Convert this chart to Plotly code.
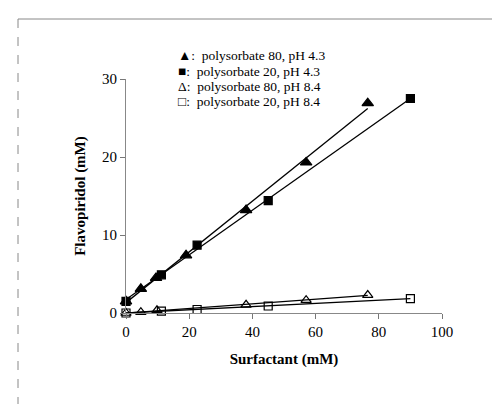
import numpy as np
import plotly.graph_objects as go

# Data
ps80_ph43_x = [0, 4.7, 9.5, 19, 38, 57, 76.5]
ps80_ph43_y = [1.5, 3.1, 4.5, 7.4, 13.2, 19.3, 26.9]
ps20_ph43_x = [0, 11.2, 22.5, 45, 90]
ps20_ph43_y = [1.5, 4.9, 8.7, 14.4, 27.5]
ps80_ph84_x = [0, 4.7, 9.8, 38, 57, 76.5]
ps80_ph84_y = [0.0, 0.1, 0.35, 1.05, 1.65, 2.3]
ps20_ph84_x = [0, 11.2, 22.5, 45, 90]
ps20_ph84_y = [0.0, 0.25, 0.45, 0.9, 1.85]

legend_lines = [
    "\u25B2:  polysorbate 80, pH 4.3",
    "\u25A0:  polysorbate 20, pH 4.3",
    "\u0394:  polysorbate 80, pH 8.4",
    "\u25A1:  polysorbate 20, pH 8.4",
]

x_ticks = [0, 20, 40, 60, 80, 100]
y_ticks = [0, 10, 20, 30]

FONT = "Liberation Serif"

fig = go.Figure()

series = [
    (ps80_ph43_x, ps80_ph43_y, "triangle-up", "black", 10),
    (ps20_ph43_x, ps20_ph43_y, "square", "black", 8),
    (ps80_ph84_x, ps80_ph84_y, "triangle-up-open", "black", 9),
    (ps20_ph84_x, ps20_ph84_y, "square-open", "black", 8),
]

for xs, ys, sym, col, size in series:
    xa = np.array(xs, dtype=float)
    ya = np.array(ys, dtype=float)
    m, b = np.polyfit(xa, ya, 1)
    xl = np.array([xa.min(), xa.max()])
    fig.add_trace(go.Scatter(x=xl, y=m * xl + b, mode="lines",
                             line=dict(color="black", width=1.3),
                             showlegend=False, hoverinfo="skip", cliponaxis=False))
    fig.add_trace(go.Scatter(x=xs, y=ys, mode="markers",
                             marker=dict(symbol=sym, size=size, color=col,
                                         line=dict(color="black", width=1.2)),
                             showlegend=False, cliponaxis=False))

# legend as text block
for i, t in enumerate(legend_lines):
    fig.add_annotation(xref="paper", yref="paper", x=(168 - 118) / 316,
                       y=(305 - (48 + 15.3 * i)) / 234, text=t, showarrow=False,
                       xanchor="left", yanchor="middle",
                       font=dict(family=FONT, size=13.5, color="black"))

# page frame (scanned border)
fig.add_shape(type="line", xref="paper", yref="paper",
              x0=(10 - 118) / 316, x1=1.3, y0=(305 - 11) / 234, y1=(305 - 11) / 234,
              line=dict(color="#888888", width=1))
fig.add_shape(type="line", xref="paper", yref="paper",
              x0=(10 - 118) / 316, x1=(10 - 118) / 316, y0=(305 - 11) / 234, y1=-0.5,
              line=dict(color="#888888", width=1, dash="dash"))

fig.update_layout(
    width=500, height=404,
    margin=dict(l=118, r=66, t=71, b=99),
    paper_bgcolor="white", plot_bgcolor="white",
    font=dict(family=FONT, size=14, color="black"),
    xaxis=dict(range=[0, 100], tickvals=x_ticks, ticks="outside", ticklen=5,
               tickcolor="#777", showgrid=False, zeroline=False, showline=True,
               linecolor="#888", linewidth=1,
               title=dict(text="<b>Surfactant (mM)</b>", font=dict(family=FONT, size=15), standoff=14),
               tickfont=dict(family=FONT, size=15)),
    yaxis=dict(range=[0, 30], tickvals=y_ticks, ticks="outside", ticklen=5,
               tickcolor="#777", showgrid=False, zeroline=False, showline=True,
               linecolor="#888", linewidth=1,
               title=dict(text="<b>Flavopiridol (mM)</b>", font=dict(family=FONT, size=15), standoff=12),
               tickfont=dict(family=FONT, size=15)),
)

fig.write_html("out.html")
